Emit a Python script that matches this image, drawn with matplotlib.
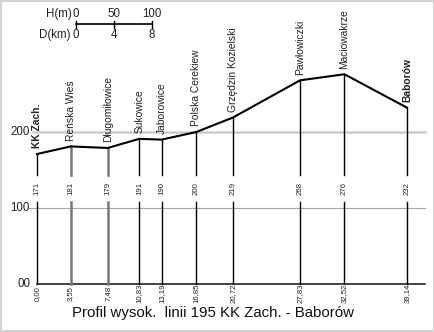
import numpy as np
import matplotlib.pyplot as plt
from matplotlib.patches import Rectangle

plt.rcParams['font.family'] = ['Liberation Sans', 'DejaVu Sans']

stations = ['KK Zach.', 'Reńska Wieś', 'Długomiłowice', 'Sukowice', 'Jaborowice',
            'Polska Cerekiew', 'Grzędzin Kozielski', 'Pawłowiczki', 'Maciowakrze', 'Baborów']
km = [0.00, 3.55, 7.48, 10.83, 13.19, 16.85, 20.72, 27.83, 32.52, 39.14]
km_labels = ['0,00', '3,55', '7,48', '10,83', '13,19', '16,85', '20,72', '27,83', '32,52', '39,14']
height = [171, 181, 179, 191, 190, 200, 219, 268, 276, 232]
bold = ['KK Zach.', 'Baborów']
gray_lines = ['Reńska Wieś', 'Długomiłowice']
yticks = [0, 100, 200]
ytick_labels = ['00', '100', '200']

W, H = 435, 332
x0, x1 = 37, 407      # pixel of km 0 and last km
y0 = 284              # pixel of 0 m
kx = (x1 - x0) / km[-1]
ky = 0.76

fig = plt.figure(figsize=(W / 100, H / 100), dpi=100)
ax = fig.add_axes([0, 0, 1, 1])
ax.set_xlim(-x0 / kx, (W - x0) / kx)
ax.set_ylim((y0 - H) / ky, y0 / ky)
ax.axis('off')

fig.patches.append(Rectangle((0, 0), 1, 1, transform=fig.transFigure,
                             fill=False, ec='#d4d4d4', lw=3))

xr = (425 - x0) / kx
ax.plot([-0.4, xr], [200, 200], color='#cccccc', lw=1.8, zorder=1)
ax.plot([-0.9, xr], [100, 100], color='#a8a8a8', lw=0.8, zorder=1)
ax.plot([0, xr], [0, 0], color='#222222', lw=1.2, zorder=2)
for t, lab in zip(yticks, ytick_labels):
    ax.text(-7 / kx, t, lab, ha='right', va='center', fontsize=8.3, color='#222222')

gap_lo, gap_hi = 108, 143
for name, x, h, kl in zip(stations, km, height, km_labels):
    if name in gray_lines:
        c, lw = '#777777', 1.8
    else:
        c, lw = 'black', 1.0
    ax.plot([x, x], [0, gap_lo], color=c, lw=lw, zorder=2)
    ax.plot([x, x], [gap_hi, h], color=c, lw=lw, zorder=2)
    ax.text(x, (gap_lo + gap_hi) / 2, str(h), rotation=90, ha='center', va='center',
            fontsize=5.6, color='#222222')
    ax.text(x, -12, kl, rotation=90, ha='center', va='center', fontsize=5.6, color='#222222')
    ax.annotate(name, (x, h), xytext=(0, 4), textcoords='offset points', rotation=90,
                ha='center', va='bottom', fontsize=7.4, color='#222222',
                fontweight='bold' if name in bold else 'normal')

ax.plot(km, height, color='black', lw=1.5, zorder=3)

# scale bar
sx = (76 - x0) / kx
sy = (y0 - 24) / ky
tk = 3.5 / ky
ax.plot([sx, sx + 8], [sy, sy], color='black', lw=1.2)
for d, hm in zip([0, 4, 8], ['0', '50', '100']):
    ax.plot([sx + d, sx + d], [sy - tk, sy + tk], color='black', lw=1)
    ax.text(sx + d, sy + 10 / ky, hm, ha='center', va='center', fontsize=8.3, color='#222222')
    ax.text(sx + d, sy - 11 / ky, str(d), ha='center', va='center', fontsize=8.3, color='#222222')
ax.text(sx - 4 / kx, sy + 10 / ky, 'H(m)', ha='right', va='center', fontsize=8.3, color='#222222')
ax.text(sx - 6 / kx, sy - 11 / ky, 'D(km)', ha='right', va='center', fontsize=8.3, color='#222222')

ax.text((213 - x0) / kx, (y0 - 313) / ky, 'Profil wysok.  linii 195 KK Zach. - Baborów',
        ha='center', va='center', fontsize=10.8, color='#111111')

fig.savefig('out.png', dpi=100)
